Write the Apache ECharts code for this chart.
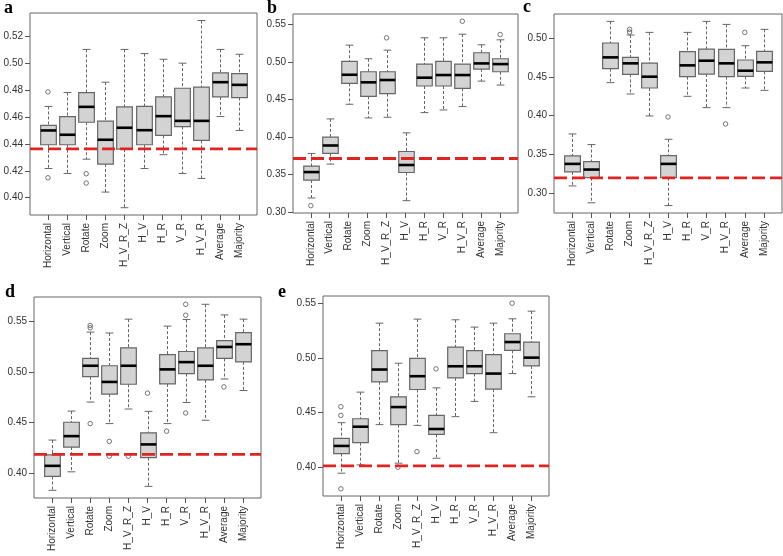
<!DOCTYPE html>
<html><head><meta charset="utf-8">
<script src="https://cdn.jsdelivr.net/npm/echarts@6/dist/echarts.min.js"></script>
<style>html,body{margin:0;padding:0;background:#fff}#chart{width:783px;height:556px}</style>
</head><body><div id="chart"></div>
<script>
const categories = ['Horizontal','Vertical','Rotate','Zoom','H_V_R_Z','H_V','H_R','V_R','H_V_R','Average','Majority'];

// [low whisker, Q1, median, Q3, high whisker]
const statsA = [
  [0.4217,0.4393,0.4499,0.4536,0.4677],[0.4180,0.4393,0.4467,0.4602,0.4780],[0.4286,0.4560,0.4674,0.4780,0.5100],
  [0.4042,0.4250,0.4430,0.4568,0.4857],[0.3926,0.4360,0.4519,0.4674,0.5100],[0.4217,0.4393,0.4501,0.4677,0.5069],
  [0.4319,0.4462,0.4605,0.4748,0.5027],[0.4180,0.4528,0.4570,0.4812,0.4998],[0.4143,0.4425,0.4570,0.4820,0.5314],
  [0.4602,0.4748,0.4857,0.4926,0.5100],[0.4499,0.4743,0.4837,0.4921,0.5064]
];
const outliersA = [[0,0.4785],[0,0.4148],[2,0.4178],[2,0.4109]];
const refA = 0.4363;
const yTicksA = [0.40,0.42,0.44,0.46,0.48,0.50,0.52];

const statsB = [
  [0.3186,0.3425,0.3531,0.3611,0.3779],[0.3637,0.3779,0.3885,0.3996,0.4239],[0.4434,0.4712,0.4827,0.5004,0.5221],
  [0.4252,0.4540,0.4726,0.4867,0.5040],[0.4261,0.4575,0.4757,0.4867,0.5155],[0.3150,0.3525,0.3625,0.3805,0.4053],
  [0.4323,0.4677,0.4788,0.4969,0.5319],[0.4358,0.4677,0.4823,0.5004,0.5319],[0.4403,0.4646,0.4823,0.4969,0.5367],
  [0.4742,0.4903,0.4978,0.5120,0.5226],[0.4690,0.4867,0.4969,0.5040,0.5292]
];
const outliersB = [[0,0.3084],[4,0.5319],[8,0.5540],[10,0.5363]];
const refB = 0.3712;
const yTicksB = [0.30,0.35,0.40,0.45,0.50,0.55];

const statsC = [
  [0.3094,0.3275,0.3378,0.3481,0.3764],[0.2876,0.3200,0.3305,0.3408,0.3627],[0.4425,0.4605,0.4751,0.4936,0.5215],
  [0.4279,0.4532,0.4674,0.4751,0.5039],[0.3996,0.4356,0.4502,0.4678,0.5073],[0.2841,0.3200,0.3378,0.3485,0.3695],
  [0.4249,0.4502,0.4648,0.4824,0.5073],[0.4103,0.4536,0.4708,0.4858,0.5215],[0.4103,0.4502,0.4674,0.4854,0.5176],
  [0.4356,0.4506,0.4579,0.4717,0.4901],[0.4326,0.4571,0.4687,0.4828,0.5112]
];
const outliersC = [[3,0.5112],[3,0.5077],[5,0.3983],[8,0.3893],[9,0.5073]];
const refC = 0.3197;
const yTicksC = [0.30,0.35,0.40,0.45,0.50];

const statsD = [
  [0.3830,0.3967,0.4072,0.4180,0.4327],[0.4013,0.4258,0.4366,0.4503,0.4614],[0.4703,0.4954,0.5062,0.5134,0.5395],
  [0.4490,0.4781,0.4902,0.5062,0.5386],[0.4634,0.4879,0.5062,0.5239,0.5523],[0.3869,0.4153,0.4284,0.4399,0.4611],
  [0.4490,0.4882,0.5026,0.5173,0.5454],[0.4699,0.4984,0.5098,0.5203,0.5520],[0.4523,0.4922,0.5062,0.5239,0.5670],
  [0.4931,0.5134,0.5248,0.5310,0.5565],[0.4817,0.5101,0.5275,0.5389,0.5523]
];
const outliersD = [[2,0.5461],[2,0.5438],[2,0.4490],[3,0.4314],[3,0.4167],[4,0.4167],[5,0.4791],[6,0.4415],[7,0.5670],[7,0.5562],[7,0.4595],[9,0.4853]];
const refD = 0.4186;
const yTicksD = [0.40,0.45,0.50,0.55];

const statsE = [
  [0.3942,0.4122,0.4192,0.4262,0.4405],[0.4018,0.4222,0.4368,0.4441,0.4685],[0.4387,0.4779,0.4892,0.5065,0.5317],
  [0.4034,0.4387,0.4548,0.4642,0.4950],[0.4380,0.4709,0.4831,0.4995,0.5354],[0.4079,0.4298,0.4347,0.4472,0.4724],
  [0.4460,0.4815,0.4922,0.5098,0.5348],[0.4600,0.4855,0.4922,0.5065,0.5281],[0.4313,0.4712,0.4855,0.5028,0.5317],
  [0.4855,0.5068,0.5144,0.5220,0.5357],[0.4642,0.4925,0.5001,0.5144,0.5427]
];
const outliersE = [[0,0.4551],[0,0.4472],[0,0.3799],[3,0.3997],[4,0.4140],[5,0.4898],[9,0.5500]];
const refE = 0.4009;
const yTicksE = [0.40,0.45,0.50,0.55];

const panels = [
  {label:'a', stats:statsA, outliers:outliersA, ref:refA, ticks:yTicksA, min:0.3872, max:0.5370, left:30, top:13, width:227, height:202, lx:4, ly:12},
  {label:'b', stats:statsB, outliers:outliersB, ref:refB, ticks:yTicksB, min:0.2986, max:0.5636, left:293, top:14, width:225, height:199, lx:267, ly:12},
  {label:'c', stats:statsC, outliers:outliersC, ref:refC, ticks:yTicksC, min:0.2745, max:0.5310, left:554, top:14, width:228, height:199, lx:523, ly:11},
  {label:'d', stats:statsD, outliers:outliersD, ref:refD, ticks:yTicksD, min:0.3754, max:0.5742, left:34, top:297, width:227, height:201, lx:5, ly:296},
  {label:'e', stats:statsE, outliers:outliersE, ref:refE, ticks:yTicksE, min:0.3733, max:0.5566, left:323, top:296, width:226, height:200, lx:278, ly:296}
];

const xPos = categories.map((c, i) => i + 1);
const X_MIN = 0.06, X_MAX = 11.94;
const FONT = 'Liberation Sans';

function renderBox(params, api) {
  const x = api.value(0);
  const pLow = api.coord([x, api.value(1)]);
  const pQ1 = api.coord([x, api.value(2)]);
  const pMed = api.coord([x, api.value(3)]);
  const pQ3 = api.coord([x, api.value(4)]);
  const pHigh = api.coord([x, api.value(5)]);
  const unit = api.size([1, 0])[0];
  const bw = unit * 0.82, cw = unit * 0.41;
  const cx = Math.round(pLow[0]) + 0.5;
  const whisker = {stroke:'#666', lineWidth:1, lineDash:[3,2]};
  const cap = {stroke:'#666', lineWidth:1};
  return {type:'group', children:[
    {type:'line', shape:{x1:cx, y1:pHigh[1], x2:cx, y2:pQ3[1]}, style:whisker},
    {type:'line', shape:{x1:cx, y1:pQ1[1], x2:cx, y2:pLow[1]}, style:whisker},
    {type:'line', shape:{x1:cx-cw/2, y1:pHigh[1], x2:cx+cw/2, y2:pHigh[1]}, style:cap},
    {type:'line', shape:{x1:cx-cw/2, y1:pLow[1], x2:cx+cw/2, y2:pLow[1]}, style:cap},
    {type:'rect', shape:{x:cx-bw/2, y:pQ3[1], width:bw, height:pQ1[1]-pQ3[1]}, style:{fill:'#d3d3d3', stroke:'#666', lineWidth:1.2}},
    {type:'line', shape:{x1:cx-bw/2, y1:pMed[1], x2:cx+bw/2, y2:pMed[1]}, style:{stroke:'#000', lineWidth:2.6}}
  ]};
}

const grid = [], xAxis = [], yAxis = [], series = [], graphic = [];
panels.forEach((p, i) => {
  grid.push({left:p.left, top:p.top, width:p.width, height:p.height, show:true, borderColor:'#666', borderWidth:1, backgroundColor:'transparent', containLabel:false});
  xAxis.push({
    gridIndex:i, type:'value', min:X_MIN, max:X_MAX,
    splitLine:{show:false}, axisLine:{show:false},
    axisTick:{show:true, customValues:xPos, length:5, lineStyle:{color:'#555'}},
    axisLabel:{show:true, customValues:xPos, formatter:v => categories[Math.round(v)-1] || '', rotate:90, fontSize:10, color:'#333', margin:8, fontFamily:FONT}
  });
  yAxis.push({
    gridIndex:i, type:'value', min:p.min, max:p.max,
    splitLine:{show:false}, axisLine:{show:false},
    axisTick:{show:true, customValues:p.ticks, length:5, lineStyle:{color:'#555'}},
    axisLabel:{show:true, customValues:p.ticks, formatter:v => v.toFixed(2), fontSize:10, color:'#333', margin:7, fontFamily:FONT}
  });
  series.push({
    type:'custom', xAxisIndex:i, yAxisIndex:i, renderItem:renderBox, z:2,
    encode:{x:0, y:[1,2,3,4,5]},
    data:p.stats.map((s, k) => [k + 1].concat(s))
  });
  series.push({
    type:'scatter', xAxisIndex:i, yAxisIndex:i, z:4, symbol:'circle', symbolSize:4.5,
    itemStyle:{color:'rgba(0,0,0,0)', borderColor:'#555', borderWidth:1},
    data:p.outliers.map(o => [o[0] + 1, o[1]])
  });
  series.push({
    type:'line', xAxisIndex:i, yAxisIndex:i, z:6, symbol:'none', silent:true,
    lineStyle:{color:'#e02424', width:2.8, type:[13,5]},
    data:[[X_MIN, p.ref], [X_MAX, p.ref]]
  });
  graphic.push({type:'text', left:p.lx, top:p.ly - 13, style:{text:p.label, font:'bold 18px "Liberation Serif"', fill:'#000'}});
});

const chart = echarts.init(document.getElementById('chart'), null, {renderer:'canvas'});
chart.setOption({animation:false, backgroundColor:'#fff', grid, xAxis, yAxis, series, graphic});
</script>
</body></html>
